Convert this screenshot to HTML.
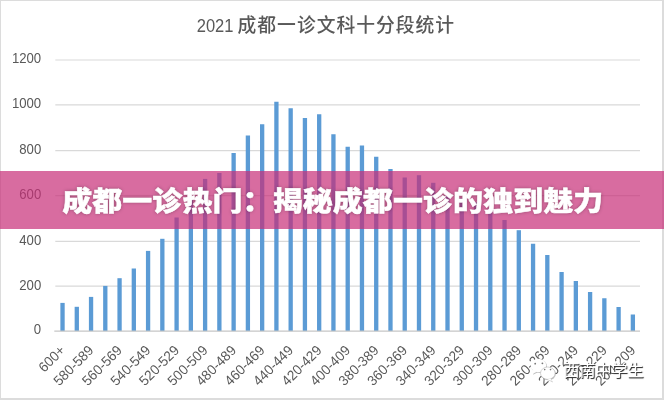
<!DOCTYPE html>
<html lang="zh-CN">
<head>
<meta charset="utf-8">
<title>成都一诊热门：揭秘成都一诊的独到魅力</title>
<style>
html,body{margin:0;padding:0;background:#fff;}
body{width:664px;height:400px;overflow:hidden;position:relative;font-family:"Liberation Sans","Noto Sans CJK SC",sans-serif;}
#wrap{position:absolute;left:0;top:0;width:664px;height:400px;background:#fff;overflow:hidden;}
#frame{position:absolute;left:0;top:0;width:661px;height:397px;border:1px solid #dcdcdc;border-width:1px 2px 2px 1px;}
#banner{position:absolute;left:0;top:171px;width:664px;height:57.5px;background:rgba(199,45,119,0.7);}
#banner h1{margin:0;position:absolute;left:0.8px;top:1.6px;letter-spacing:0.07px;-webkit-text-stroke:0.5px #fff;transform:scale(1,0.9);transform-origin:50% 50%;width:100%;height:100%;text-align:center;color:#fff;
 font-family:"Liberation Sans","Noto Sans CJK SC",sans-serif;font-weight:900;font-size:30px;line-height:57px;white-space:nowrap;
 text-shadow:0 0 4px rgba(0,0,0,0.35);}
#wm{position:absolute;left:563.5px;top:359.2px;font-size:16px;line-height:24px;color:#fff;white-space:nowrap;
 font-family:"Liberation Sans","Noto Sans CJK SC",sans-serif;text-shadow:1px 1px 1px #333,0.5px 0.5px 0 #666;}
#wmicon{position:absolute;left:528px;top:352px;}
</style>
</head>
<body>
<div id="wrap">
<svg width="664" height="400" viewBox="0 0 664 400" style="position:absolute;left:0;top:0">
<line x1="55.3" x2="640.0" y1="60.00" y2="60.00" stroke="#d9d9d9" stroke-width="1.2"/>
<line x1="55.3" x2="640.0" y1="104.90" y2="104.90" stroke="#d9d9d9" stroke-width="1.2"/>
<line x1="55.3" x2="640.0" y1="150.70" y2="150.70" stroke="#d9d9d9" stroke-width="1.2"/>
<line x1="55.3" x2="640.0" y1="195.60" y2="195.60" stroke="#d9d9d9" stroke-width="1.2"/>
<line x1="55.3" x2="640.0" y1="241.40" y2="241.40" stroke="#d9d9d9" stroke-width="1.2"/>
<line x1="55.3" x2="640.0" y1="286.20" y2="286.20" stroke="#d9d9d9" stroke-width="1.2"/>
<g fill="#5b9bd5">
<rect x="60.38" y="302.90" width="4.3" height="28.20"/>
<rect x="74.64" y="306.80" width="4.3" height="24.30"/>
<rect x="88.90" y="296.90" width="4.3" height="34.20"/>
<rect x="103.15" y="285.90" width="4.3" height="45.20"/>
<rect x="117.41" y="278.20" width="4.3" height="52.90"/>
<rect x="131.67" y="268.50" width="4.3" height="62.60"/>
<rect x="145.93" y="250.90" width="4.3" height="80.20"/>
<rect x="160.19" y="238.80" width="4.3" height="92.30"/>
<rect x="174.45" y="217.50" width="4.3" height="113.60"/>
<rect x="188.71" y="197.00" width="4.3" height="134.10"/>
<rect x="202.96" y="178.90" width="4.3" height="152.20"/>
<rect x="217.22" y="173.00" width="4.3" height="158.10"/>
<rect x="231.48" y="153.00" width="4.3" height="178.10"/>
<rect x="245.74" y="135.50" width="4.3" height="195.60"/>
<rect x="260.00" y="124.25" width="4.3" height="206.85"/>
<rect x="274.26" y="101.75" width="4.3" height="229.35"/>
<rect x="288.52" y="108.25" width="4.3" height="222.85"/>
<rect x="302.77" y="118.00" width="4.3" height="213.10"/>
<rect x="317.03" y="114.25" width="4.3" height="216.85"/>
<rect x="331.29" y="134.25" width="4.3" height="196.85"/>
<rect x="345.55" y="146.75" width="4.3" height="184.35"/>
<rect x="359.81" y="145.50" width="4.3" height="185.60"/>
<rect x="374.07" y="156.75" width="4.3" height="174.35"/>
<rect x="388.33" y="169.00" width="4.3" height="162.10"/>
<rect x="402.58" y="177.50" width="4.3" height="153.60"/>
<rect x="416.84" y="175.20" width="4.3" height="155.90"/>
<rect x="431.10" y="182.80" width="4.3" height="148.30"/>
<rect x="445.36" y="194.30" width="4.3" height="136.80"/>
<rect x="459.62" y="198.00" width="4.3" height="133.10"/>
<rect x="473.88" y="202.00" width="4.3" height="129.10"/>
<rect x="488.14" y="208.00" width="4.3" height="123.10"/>
<rect x="502.39" y="220.00" width="4.3" height="111.10"/>
<rect x="516.65" y="230.20" width="4.3" height="100.90"/>
<rect x="530.91" y="243.75" width="4.3" height="87.35"/>
<rect x="545.17" y="255.00" width="4.3" height="76.10"/>
<rect x="559.43" y="272.00" width="4.3" height="59.10"/>
<rect x="573.69" y="281.00" width="4.3" height="50.10"/>
<rect x="587.95" y="292.00" width="4.3" height="39.10"/>
<rect x="602.20" y="298.25" width="4.3" height="32.85"/>
<rect x="616.46" y="307.00" width="4.3" height="24.10"/>
<rect x="630.72" y="314.50" width="4.3" height="16.60"/>
</g>
<line x1="54.3" x2="640.0" y1="331.1" y2="331.1" stroke="#c6c6c6" stroke-width="1.4"/>
<g font-family="'Liberation Sans', sans-serif" font-size="14" fill="#595959" text-anchor="end">
<text transform="translate(41.2,63.30) scale(0.94,1)">1200</text>
<text transform="translate(41.2,108.20) scale(0.94,1)">1000</text>
<text transform="translate(41.2,154.00) scale(0.94,1)">800</text>
<text transform="translate(41.2,198.90) scale(0.94,1)">600</text>
<text transform="translate(41.2,244.70) scale(0.94,1)">400</text>
<text transform="translate(41.2,289.50) scale(0.94,1)">200</text>
<text transform="translate(41.2,334.40) scale(0.94,1)">0</text>
</g>
<g font-family="'Liberation Sans', sans-serif" font-size="14" fill="#595959" text-anchor="end">
<text transform="translate(62.43,347.8) rotate(-45) scale(0.97,1)" x="0" y="4.9">600+</text>
<text transform="translate(90.95,347.8) rotate(-45) scale(0.97,1)" x="0" y="4.9">580-589</text>
<text transform="translate(119.46,347.8) rotate(-45) scale(0.97,1)" x="0" y="4.9">560-569</text>
<text transform="translate(147.98,347.8) rotate(-45) scale(0.97,1)" x="0" y="4.9">540-549</text>
<text transform="translate(176.50,347.8) rotate(-45) scale(0.97,1)" x="0" y="4.9">520-529</text>
<text transform="translate(205.01,347.8) rotate(-45) scale(0.97,1)" x="0" y="4.9">500-509</text>
<text transform="translate(233.53,347.8) rotate(-45) scale(0.97,1)" x="0" y="4.9">480-489</text>
<text transform="translate(262.05,347.8) rotate(-45) scale(0.97,1)" x="0" y="4.9">460-469</text>
<text transform="translate(290.57,347.8) rotate(-45) scale(0.97,1)" x="0" y="4.9">440-449</text>
<text transform="translate(319.08,347.8) rotate(-45) scale(0.97,1)" x="0" y="4.9">420-429</text>
<text transform="translate(347.60,347.8) rotate(-45) scale(0.97,1)" x="0" y="4.9">400-409</text>
<text transform="translate(376.12,347.8) rotate(-45) scale(0.97,1)" x="0" y="4.9">380-389</text>
<text transform="translate(404.63,347.8) rotate(-45) scale(0.97,1)" x="0" y="4.9">360-369</text>
<text transform="translate(433.15,347.8) rotate(-45) scale(0.97,1)" x="0" y="4.9">340-349</text>
<text transform="translate(461.67,347.8) rotate(-45) scale(0.97,1)" x="0" y="4.9">320-329</text>
<text transform="translate(490.19,347.8) rotate(-45) scale(0.97,1)" x="0" y="4.9">300-309</text>
<text transform="translate(518.70,347.8) rotate(-45) scale(0.97,1)" x="0" y="4.9">280-289</text>
<text transform="translate(547.22,347.8) rotate(-45) scale(0.97,1)" x="0" y="4.9">260-269</text>
<text transform="translate(575.74,347.8) rotate(-45) scale(0.97,1)" x="0" y="4.9">240-249</text>
<text transform="translate(604.25,347.8) rotate(-45) scale(0.97,1)" x="0" y="4.9">220-229</text>
<text transform="translate(632.77,347.8) rotate(-45) scale(0.97,1)" x="0" y="4.9">200-209</text>
</g>
<g font-family="'Liberation Sans', 'Noto Sans CJK SC', sans-serif" fill="#595959">
<text transform="translate(233.5,32.1) scale(0.87,1)" text-anchor="end" font-size="19">2021</text>
<text x="237.6" y="32.2" font-size="18.8" letter-spacing="0.98" font-weight="500">成都一诊文科十分段统计</text>
</g>
</svg>
<svg id="wmicon" width="40" height="36" viewBox="0 0 40 36">
<g fill="#8a8a8a" opacity="0.55" transform="translate(0.7,0.8)">
<ellipse cx="10.4" cy="13.5" rx="7.8" ry="6.8"/>
<path d="M5.5 18 L4.3 22 L8.8 19.8 Z"/>
<ellipse cx="19.8" cy="21.2" rx="7.3" ry="6.2"/>
<path d="M22.5 26.5 L24.3 29.6 L19.5 27.2 Z"/>
</g>
<g fill="#fff">
<ellipse cx="10.4" cy="13.5" rx="7.8" ry="6.8"/>
<path d="M5.5 18 L4.3 22 L8.8 19.8 Z"/>
<ellipse cx="19.8" cy="21.2" rx="7.3" ry="6.2" stroke="#b8b8b8" stroke-width="0.6"/>
<path d="M22.5 26.5 L24.3 29.6 L19.5 27.2 Z"/>
</g>
<g fill="#777">
<circle cx="7.2" cy="11.7" r="0.9"/><circle cx="14.4" cy="11.3" r="0.9"/>
<circle cx="16.7" cy="17.6" r="0.8"/><circle cx="22.5" cy="17.6" r="0.8"/>
</g>
</svg>
<div id="wm">西南中学生</div>
<div id="frame"></div>
<div id="banner"><h1>成都一诊热门：揭秘成都一诊的独到魅力</h1></div>
</div>
</body>
</html>
